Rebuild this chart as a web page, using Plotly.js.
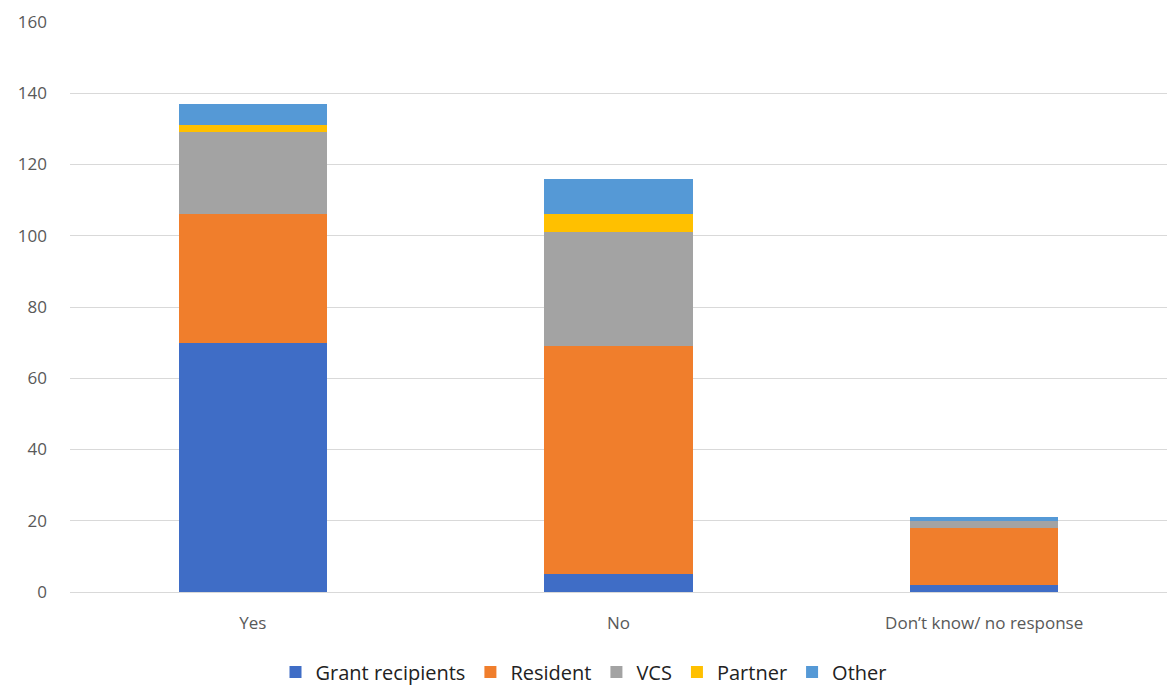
<!DOCTYPE html>
<html><head><meta charset="utf-8">
<script src="https://cdn.plot.ly/plotly-3.0.1.min.js"></script>
<style>html,body{margin:0;padding:0;background:#fff}#chart{width:1167px;height:687px}</style>
</head><body><div id="chart"></div>
<script>
const categories = ["Yes", "No", "Don\u2019t know/ no response"];
const grantRecipients = [70, 5, 2];
const resident = [36, 64, 16];
const vcs = [23, 32, 2];
const partner = [2, 5, 0];
const other = [6, 10, 1];
const seriesNames = ["Grant recipients", "Resident", "VCS", "Partner", "Other"];
const seriesColors = ["#3F6DC6", "#F07E2C", "#A3A3A3", "#FFC000", "#5599D6"];
const seriesValues = [grantRecipients, resident, vcs, partner, other];

const traces = seriesValues.map((vals, i) => ({
  type: "bar", x: categories, y: vals, name: seriesNames[i],
  marker: {color: seriesColors[i], line: {width: 0}},
  hoverinfo: "x+y+name"
}));

const layout = {
  barmode: "stack", bargap: 0.595,
  width: 1167, height: 687,
  margin: {l: 70, r: 0, t: 22, b: 94.5},
  paper_bgcolor: "#fff", plot_bgcolor: "#fff",
  font: {family: "Open Sans, Liberation Sans, sans-serif", color: "#595959", size: 17},
  xaxis: {showgrid: false, showline: true, linecolor: "#D9D9D9", linewidth: 1, ticks: "", tickfont: {size: 17, color: "#595959"}, ticklabelstandoff: 16, automargin: false},
  yaxis: {range: [0, 160], dtick: 20, gridcolor: "#D9D9D9", gridwidth: 1, zeroline: false, showline: false, ticks: "", ticklen: 0, tickfont: {size: 17, color: "#595959"}, ticklabelstandoff: 22, automargin: false},
  legend: {orientation: "h", x: 0.5, xref: "container", xanchor: "center", y: 0.022, yref: "container", yanchor: "middle", font: {size: 20, color: "#222"}, traceorder: "normal", itemwidth: 30},
  showlegend: true
};
Plotly.newPlot("chart", traces, layout, {displayModeBar: false, staticPlot: true});
</script></body></html>
